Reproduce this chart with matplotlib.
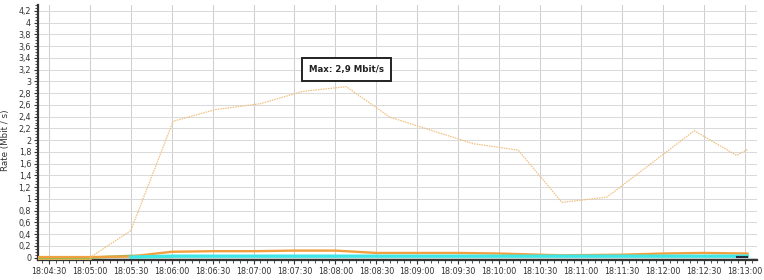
import matplotlib
matplotlib.use("Agg")
import matplotlib.pyplot as plt
from matplotlib.ticker import MultipleLocator, FuncFormatter

# ---- data ----
peak_times = ["18:05:00", "18:05:30", "18:06:01", "18:06:32", "18:07:05", "18:07:36",
              "18:08:08", "18:08:40", "18:09:41", "18:10:14", "18:10:46", "18:11:19",
              "18:12:23", "18:12:54", "18:13:02"]
peak_values = [0.0, 0.46, 2.32, 2.52, 2.62, 2.83, 2.91, 2.39, 1.94, 1.83, 0.94, 1.03,
               2.16, 1.74, 1.84]

base_times = ["18:04:22", "18:05:00", "18:05:30", "18:06:00", "18:06:30", "18:07:00",
              "18:07:30", "18:08:00", "18:08:30", "18:09:00", "18:09:30", "18:10:00",
              "18:10:45", "18:11:30", "18:12:00", "18:12:30", "18:13:02"]
orange_values = [0.01, 0.01, 0.02, 0.10, 0.11, 0.11, 0.12, 0.12, 0.08, 0.08, 0.08, 0.07,
                 0.04, 0.05, 0.07, 0.08, 0.07]

cyan_times = ["18:05:30", "18:06:00", "18:08:00", "18:10:00", "18:12:00", "18:13:02"]
cyan_values = [0.01, 0.025, 0.025, 0.025, 0.025, 0.025]

green_times = ["18:04:22", "18:05:00", "18:05:30", "18:06:00"]
green_values = [0.0, 0.0, 0.03, 0.02]

yellow0_times = ["18:04:22", "18:05:00"]
yellow0_values = [0.0, 0.0]

dark_times = ["18:12:54", "18:13:02"]
dark_values = [0.005, 0.005]

max_label = "Max: 2,9 Mbit/s"
y_label = "Rate (Mbit / s)"


def secs(t):
    h, m, s = (int(v) for v in t.split(":"))
    return h * 3600 + m * 60 + s


def fmt_time(x, pos=None):
    x = int(round(x))
    return f"{x // 3600:02d}:{(x % 3600) // 60:02d}:{x % 60:02d}"


fig = plt.figure(figsize=(7.64, 2.80), dpi=100)
ax = fig.add_axes([38 / 764, 20 / 280, (757 - 38) / 764, 255 / 280])

ax.plot([secs(t) for t in yellow0_times], yellow0_values, color="#f2c45a", lw=2.0, zorder=3)
ax.plot([secs(t) for t in green_times], green_values, color="#7cbf5a", lw=1.8, zorder=3)
ax.plot([secs(t) for t in base_times], orange_values, color="#f0a040", lw=1.7, zorder=4)
ax.plot([secs(t) for t in cyan_times], cyan_values, color="#3fe6e6", lw=2.4, zorder=5)
ax.plot([secs(t) for t in dark_times], dark_values, color="#203040", lw=1.5, zorder=6)
ax.plot([secs(t) for t in peak_times], peak_values, color="#f0c080", lw=0.9,
        linestyle=(0, (1.2, 0.8)), zorder=4)

ax.set_xlim(secs("18:04:22"), secs("18:13:09"))
ax.set_ylim(-0.04, 4.3)

ax.xaxis.set_major_locator(MultipleLocator(30))
ax.xaxis.set_minor_locator(MultipleLocator(5))
ax.xaxis.set_major_formatter(FuncFormatter(fmt_time))
ax.yaxis.set_major_locator(MultipleLocator(0.2))
ax.yaxis.set_minor_locator(MultipleLocator(0.05))
ax.yaxis.set_major_formatter(FuncFormatter(lambda v, p: f"{v:.1f}".rstrip("0").rstrip(".").replace(".", ",")))

ax.grid(True, which="major", axis="x", color="#cfcfcf", lw=0.75)
ax.grid(True, which="major", axis="y", color="#dadada", lw=0.75)
ax.set_axisbelow(True)
for s in ["top", "right"]:
    ax.spines[s].set_visible(False)
ax.spines["left"].set_color("#333333")
ax.spines["left"].set_linewidth(1.6)
ax.spines["bottom"].set_color("#333333")
ax.spines["bottom"].set_linewidth(1.6)
ax.tick_params(axis="both", which="major", labelsize=5.8, colors="#333333",
               length=3, width=0.8, pad=2)
ax.tick_params(axis="both", which="minor", length=2, width=0.6, colors="#333333")

ax.set_ylabel(y_label, fontsize=6.3, color="#333333")
ax.yaxis.set_label_coords(-0.039, 0.47)

imax = peak_values.index(max(peak_values))
ax.text(secs(peak_times[imax]), 3.2, max_label, fontsize=6.2, fontweight="bold",
        ha="center", va="center", color="#222222", zorder=10,
        bbox=dict(boxstyle="square,pad=0.85", fc="white", ec="#222222", lw=1.4))

fig.savefig("out.png", dpi=100)
